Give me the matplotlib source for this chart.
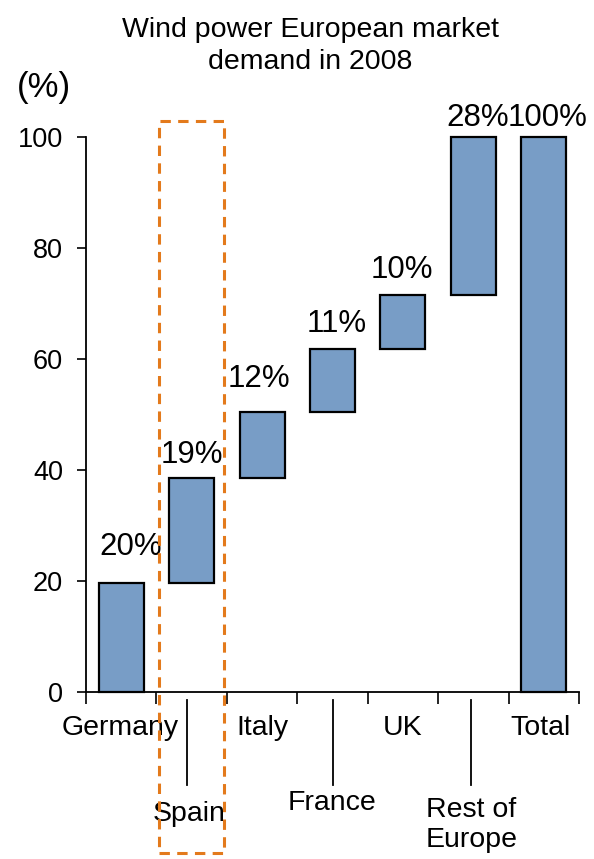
import matplotlib
matplotlib.use("Agg")
import matplotlib.pyplot as plt
from matplotlib.patches import Rectangle
import matplotlib.transforms as mtransforms

plt.rcParams['font.family'] = ['Liberation Sans', 'DejaVu Sans']

categories = ["Germany", "Spain", "Italy", "France", "UK", "Rest of\nEurope", "Total"]
bottoms = [0, 19.6, 38.5, 50.5, 61.8, 71.6, 0]
tops = [19.6, 38.5, 50.5, 61.8, 71.6, 100, 100]
value_labels = ["20%", "19%", "12%", "11%", "10%", "28%", "100%"]
yticks = [0, 20, 40, 60, 80, 100]

W, H = 594, 859
fig = plt.figure(figsize=(W / 100, H / 100), dpi=100)
ax = fig.add_axes([86 / W, 1 - 692 / H, (579 - 86) / W, (692 - 137) / H])

n = len(categories)
x = list(range(n))
heights = [t - b for t, b in zip(tops, bottoms)]
ax.bar(x, heights, bottom=bottoms, width=0.64, color="#789dc6",
       edgecolor="black", linewidth=1.6, clip_on=False, zorder=3)

ax.set_xlim(-0.5, n - 0.5)
ax.set_ylim(0, 100)
ax.set_yticks(yticks)
ax.set_yticklabels([str(v) for v in yticks], fontsize=19.5)
ax.tick_params(axis='y', direction='out', length=6.5, width=1.2, pad=10)
ax.set_xticks([i - 0.5 for i in range(n + 1)])
ax.set_xticklabels([])
ax.tick_params(axis='x', direction='out', length=8.5, width=1.2)
for s in ['top', 'right']:
    ax.spines[s].set_visible(False)
for s in ['left', 'bottom']:
    ax.spines[s].set_linewidth(1.3)

# value labels
offsets = [20, 11, 18, 12, 12, 8, 8]
dx = [7, 0, -2, 3, -1, 3, 3]
for i, (t, lab) in enumerate(zip(tops, value_labels)):
    ax.annotate(lab, (i, t), xytext=(dx[i], offsets[i]), textcoords='offset points',
                ha='center', va='baseline', fontsize=22.5, annotation_clip=False)

# category labels (staggered)
trans = mtransforms.blended_transform_factory(ax.transData, ax.transAxes)
ax_h = 692 - 137
def yfrac(py):
    return (692 - py) / ax_h

upper = {0: -0.02, 2: 0, 4: 0, 6: -0.05}
for i, dxx in upper.items():
    ax.text(i + dxx, yfrac(728), categories[i], transform=trans, ha='center', va='center',
            fontsize=20.5)
lower_top = {1: 801, 3: 790, 5: 797}
line_x = {1: -0.07, 3: 0.0, 5: -0.03}
for i, py in lower_top.items():
    ax.plot([i + line_x[i], i + line_x[i]], [yfrac(700), yfrac(785)], transform=trans,
            color='black', linewidth=1.3, clip_on=False)
    ax.text(i - 0.03 if i != 3 else i, yfrac(py), categories[i], transform=trans,
            ha='center', va='top', fontsize=20.5, linespacing=1.2)

# dashed highlight box around Spain
rect = Rectangle((0.53, yfrac(853)), 0.93, yfrac(121) - yfrac(853), transform=trans,
                 fill=False, edgecolor='#e37a1c', linewidth=2.2, linestyle=(0, (3.4, 2.4)),
                 clip_on=False, zorder=4)
ax.add_patch(rect)

fig.text(310 / W, 1 - 30 / H, "Wind power European market", ha='center', va='center', fontsize=20.5)
fig.text(310 / W, 1 - 62 / H, "demand in 2008", ha='center', va='center', fontsize=20.5)
fig.text(44 / W, 1 - 88 / H, "(%)", ha='center', va='center', fontsize=25)

fig.savefig("out.png", dpi=100)
